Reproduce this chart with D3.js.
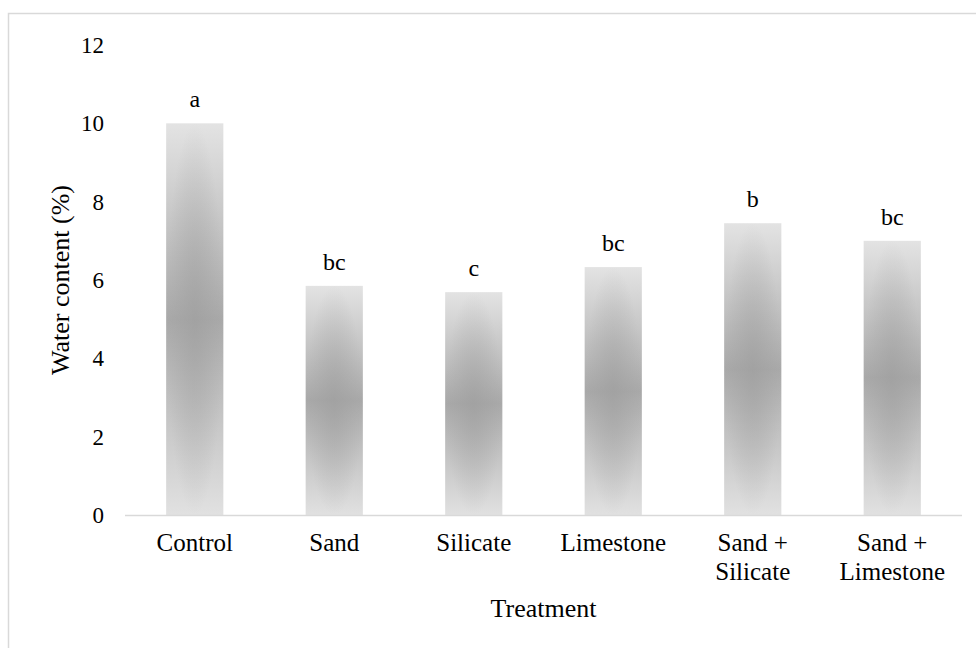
<!DOCTYPE html>
<html>
<head>
<meta charset="utf-8">
<script src="https://cdn.jsdelivr.net/npm/d3@7"></script>
<style>
  html, body { margin: 0; padding: 0; background: #fff; }
  svg { display: block; }
</style>
</head>
<body>
<svg id="chart" width="976" height="648"></svg>
<script>
const categories = ["Control", "Sand", "Silicate", "Limestone", "Sand + Silicate", "Sand + Limestone"];
const categoryLines = [["Control"], ["Sand"], ["Silicate"], ["Limestone"], ["Sand +", "Silicate"], ["Sand +", "Limestone"]];
const values = [10.0, 5.85, 5.69, 6.33, 7.45, 7.0];
const letters = ["a", "bc", "c", "bc", "b", "bc"];
const yTicks = [0, 2, 4, 6, 8, 10, 12];
const yTitle = "Water content (%)";
const xTitle = "Treatment";

const FONT = '"Liberation Serif"';
const svg = d3.select("#chart");
const W = 976, H = 648;
const plot = { left: 125, right: 962, top: 45, bottom: 515 };

// outer chart border
svg.append("rect")
  .attr("x", 8.5).attr("y", 13.5)
  .attr("width", W).attr("height", H)
  .attr("fill", "none").attr("stroke", "#d9d9d9").attr("stroke-width", 1.5);

const x = d3.scaleBand().domain(categories).range([plot.left, plot.right]).paddingInner(0.59).paddingOuter(0.295);
const y = d3.scaleLinear().domain([0, 12]).range([plot.bottom, plot.top]);

const defs = svg.append("defs");
const lin = defs.append("linearGradient").attr("id", "gLin")
  .attr("x1", 0).attr("y1", 0).attr("x2", 0).attr("y2", 1);
lin.append("stop").attr("offset", "0%").attr("stop-color", "#e3e3e3");
lin.append("stop").attr("offset", "50%").attr("stop-color", "#a9a9a9");
lin.append("stop").attr("offset", "100%").attr("stop-color", "#e1e1e1");
const rad = defs.append("radialGradient").attr("id", "gRad")
  .attr("cx", 0.5).attr("cy", 0.5).attr("r", 0.5);
rad.append("stop").attr("offset", "0%").attr("stop-color", "#9c9c9c").attr("stop-opacity", 0.55);
rad.append("stop").attr("offset", "100%").attr("stop-color", "#9c9c9c").attr("stop-opacity", 0);

function txt(sel) { sel.style("font-family", FONT).attr("fill", "#000"); return sel; }

// y tick labels
txt(svg.append("g").selectAll("text").data(yTicks).join("text"))
  .attr("x", 104).attr("y", d => y(d))
  .attr("dy", "0.35em")
  .attr("text-anchor", "end")
  .attr("font-size", 23)
  .text(d => d);

// bars
const bars = svg.append("g");
bars.selectAll("rect.base").data(values).join("rect")
  .attr("class", "base")
  .attr("x", (d, i) => x(categories[i]))
  .attr("y", d => y(d))
  .attr("width", x.bandwidth())
  .attr("height", d => y(0) - y(d))
  .attr("fill", "url(#gLin)");
bars.selectAll("rect.glow").data(values).join("rect")
  .attr("class", "glow")
  .attr("x", (d, i) => x(categories[i]))
  .attr("y", d => y(d))
  .attr("width", x.bandwidth())
  .attr("height", d => y(0) - y(d))
  .attr("fill", "url(#gRad)");

// x axis line
svg.append("line")
  .attr("x1", plot.left).attr("x2", plot.right)
  .attr("y1", y(0) + 0.5).attr("y2", y(0) + 0.5)
  .attr("stroke", "#d9d9d9").attr("stroke-width", 1.5);

// significance letters
txt(svg.append("g").selectAll("text").data(values).join("text"))
  .attr("x", (d, i) => x(categories[i]) + x.bandwidth() / 2)
  .attr("y", d => y(d) - 16)
  .attr("text-anchor", "middle")
  .attr("font-size", 24)
  .text((d, i) => letters[i]);

// category labels
const cat = txt(svg.append("g").selectAll("text").data(categories).join("text"))
  .attr("x", d => x(d) + x.bandwidth() / 2)
  .attr("y", 551)
  .attr("text-anchor", "middle")
  .attr("font-size", 25);
cat.each(function(d, i) {
  const t = d3.select(this);
  categoryLines[i].forEach((line, j) => {
    t.append("tspan").attr("x", x(d) + x.bandwidth() / 2).attr("dy", j === 0 ? 0 : 29).text(line);
  });
});

// axis titles
txt(svg.append("text"))
  .attr("x", (plot.left + plot.right) / 2).attr("y", 617)
  .attr("text-anchor", "middle").attr("font-size", 26)
  .text(xTitle);
txt(svg.append("text"))
  .attr("transform", `translate(69, ${(plot.top + plot.bottom) / 2}) rotate(-90)`)
  .attr("text-anchor", "middle").attr("font-size", 26)
  .text(yTitle);
</script>
</body>
</html>
